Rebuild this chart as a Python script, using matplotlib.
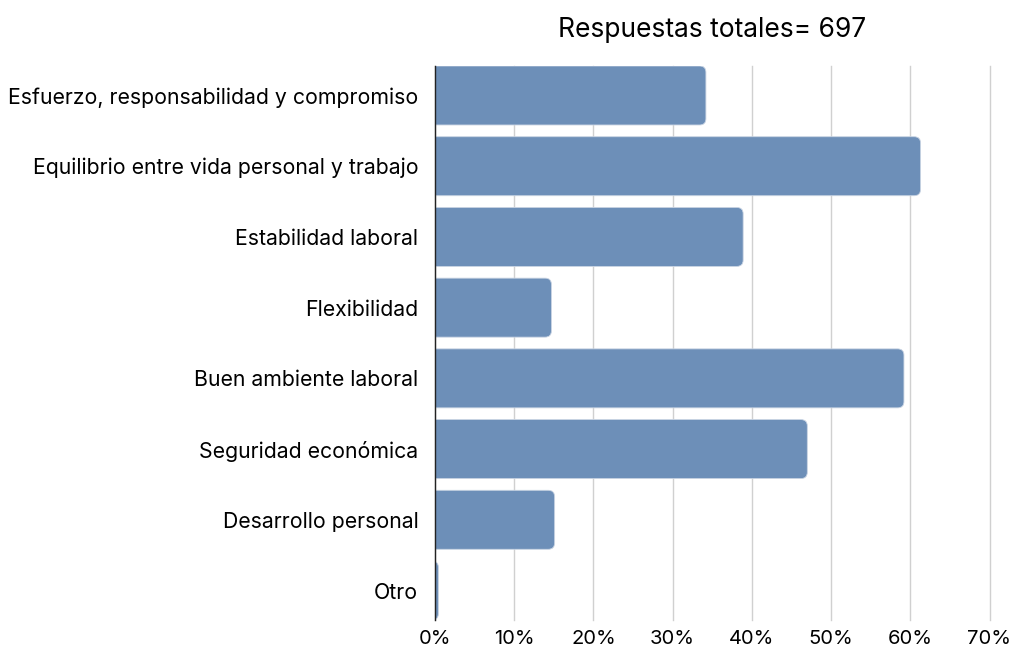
import matplotlib
matplotlib.use("Agg")
import matplotlib.pyplot as plt
from matplotlib.patches import FancyBboxPatch
from matplotlib.ticker import PercentFormatter

# Data (percentage of 697 responses)
categories = [
    "Esfuerzo, responsabilidad y compromiso",
    "Equilibrio entre vida personal y trabajo",
    "Estabilidad laboral",
    "Flexibilidad",
    "Buen ambiente laboral",
    "Seguridad económica",
    "Desarrollo personal",
    "Otro",
]
percentages = [34.2, 61.3, 38.9, 14.7, 59.2, 47.0, 15.1, 0.43]
x_ticks = [0, 10, 20, 30, 40, 50, 60, 70]
title = "Respuestas totales= 697"

bar_color = "#6d8fb8"
bar_height = 0.834

plt.rcParams["font.family"] = ["Inter", "DejaVu Sans"]

fig = plt.figure(figsize=(10.12, 6.49), dpi=100)
# axes spans from top of first bar to bottom of last bar
ax = fig.add_axes([435 / 1012, 1 - 620 / 649, (989.5 - 435) / 1012, (620 - 66) / 649])

y_pos = list(range(len(categories)))
bars = ax.barh(y_pos, percentages, height=bar_height, color=bar_color)

# swap plain bars for ones with rounded right-hand corners
r_x = 0.8       # corner radius in % units (about 6 px)
r_aspect = 0.112
for b in bars:
    x0 = b.get_x()
    w = b.get_width()
    y0 = b.get_y()
    h = b.get_height()
    b.remove()
    patch = FancyBboxPatch((x0 - 1.0, y0), w + 1.0, h,
                           boxstyle=f"round,pad=0,rounding_size={r_x}",
                           mutation_aspect=r_aspect,
                           facecolor=bar_color, edgecolor="#c9d4e3",
                           linewidth=0.6, zorder=2)
    ax.add_patch(patch)

ax.set_xlim(0, 70)
ax.set_ylim(len(categories) - 1 + bar_height / 2, -bar_height / 2)
ax.set_xticks(x_ticks)
ax.xaxis.set_major_formatter(PercentFormatter(decimals=0))
ax.set_yticks(y_pos)
ax.set_yticklabels(categories)

ax.grid(axis="x", color="#d0d0d0", linewidth=1.0, zorder=0)
for gl in ax.xaxis.get_gridlines():
    gl.set_clip_on(False)
ax.set_axisbelow(True)
for side in ["top", "right", "bottom"]:
    ax.spines[side].set_visible(False)
ax.spines["left"].set_color("#222222")
ax.spines["left"].set_linewidth(1.0)
ax.spines["left"].set_zorder(3)

ax.tick_params(axis="both", length=0, colors="black")
ax.tick_params(axis="y", pad=12, labelsize=15.3)
ax.tick_params(axis="x", pad=7, labelsize=14.5)

ax.set_title(title, fontsize=19, pad=21, color="black")

fig.savefig("out.png", dpi=100)
